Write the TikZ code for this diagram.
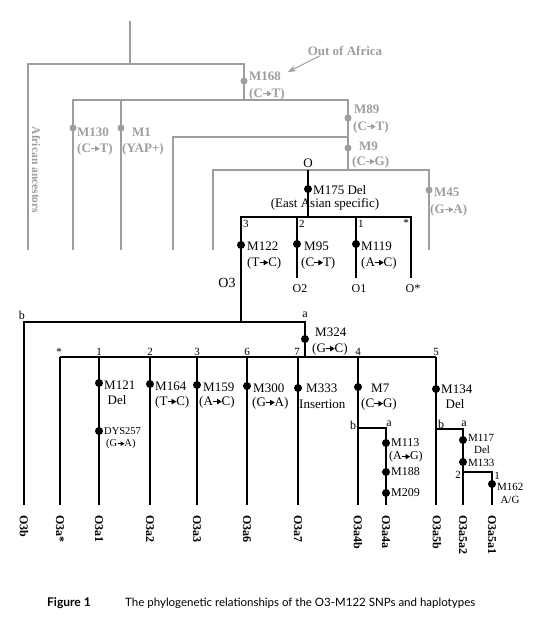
\documentclass[tikz,border=0pt]{standalone}
\usepackage{fontspec}
\setmainfont{Liberation Serif}
\newfontfamily\capfont{Lato}
\usetikzlibrary{arrows.meta}
\definecolor{anc}{RGB}{158,158,158}
\newcommand{\mto}{\tikz[baseline=-0.27em]{\draw[line width=0.5pt] (0,0) -- (0.36em,0); \fill (0.3em,0.22em) -- (0.66em,0) -- (0.3em,-0.22em) -- cycle;}}
\tikzset{
gline/.style={draw=anc, line width=1.1pt},
bline/.style={draw=black, line width=1.1pt},
gdot/.style={circle, fill=anc, inner sep=0pt, minimum size=7pt},
bdot/.style={circle, fill=black, inner sep=0pt, minimum size=8pt},
glab/.style={text=anc, font=\fontsize{13}{15}\selectfont\bfseries, inner sep=0pt, anchor=west},
blab/.style={font=\fontsize{13}{15}\selectfont, inner sep=0pt, anchor=west},
slab/.style={font=\fontsize{12}{14}\selectfont, inner sep=0pt, anchor=west},
xlab/.style={font=\fontsize{11}{13}\selectfont, inner sep=0pt, anchor=west},
tlab/.style={font=\fontsize{10.5}{12}\selectfont, inner sep=0pt, anchor=west},
num/.style={font=\fontsize{11}{12}\selectfont, inner sep=0pt},
leaf/.style={font=\fontsize{12}{14}\selectfont\bfseries, inner sep=0pt, rotate=-90, anchor=west},
}
\begin{document}
\begin{tikzpicture}[x=1pt,y=1pt,yscale=-1,xscale=1]
\useasboundingbox (0,0) rectangle (545,633);

%Ancestral lines (grey)
\coordinate (root) at (130,21);
\coordinate (j0) at (130,64);
\coordinate (afrT) at (28,64);
\coordinate (afrB) at (28,250);
\coordinate (ooaT) at (244,64);
\coordinate (ooaB) at (244,100);
\coordinate (m130T) at (73,100);
\coordinate (m130B) at (73,250);
\coordinate (m1T) at (121,100);
\coordinate (m1B) at (121,250);
\coordinate (m89T) at (348,100);
\coordinate (m9T) at (348,137);
\coordinate (m9B) at (348,170);
\coordinate (c173T) at (173,137);
\coordinate (c173B) at (173,250);
\coordinate (c213T) at (213,170);
\coordinate (c213B) at (213,250);
\coordinate (m45T) at (429,170);
\coordinate (m45B) at (429,250);
\coordinate (oT) at (308,170);
\draw[gline] (root) -- (j0);
\draw[gline] (afrB) -- (afrT) -- (ooaT) -- (ooaB);
\draw[gline] (m130B) -- (m130T) -- (m89T) -- (m9B);
\draw[gline] (m1T) -- (m1B);
\draw[gline] (c173B) -- (c173T) -- (m9T);
\draw[gline] (c213B) -- (c213T) -- (m45T) -- (m45B);

%Grey markers
\node[gdot] (d168) at (244,81) {};
\node[gdot] (d89) at (348,118) {};
\node[gdot] (d9) at (348,148) {};
\node[gdot] (d130) at (73,128) {};
\node[gdot] (d1) at (121,128) {};
\node[gdot] (d45) at (429,190) {};

% Text Node
\node[glab, anchor=center] (ooa) at (345,51) {Out of Africa};
\coordinate (ooaTip) at (288,72);
\draw[gline, line width=1pt, -{Stealth[length=8pt,width=6pt]}] ([xshift=12pt]ooa.south west) -- (ooaTip);
\node[glab] (l168) at (249,76) {M168};
\node[glab] (l168b) at (249,94) {(C\mto T)};
\node[glab] (l89) at (354,109) {M89};
\node[glab] (l89b) at (353,127) {(C\mto T)};
\node[glab] (l9) at (359,146) {M9};
\node[glab] (l9b) at (352,162) {(C\mto G)};
\node[glab] (l130) at (77,132) {M130};
\node[glab] (l130b) at (77,149) {(C\mto T)};
\node[glab] (l1) at (132,132) {M1};
\node[glab] (l1b) at (122,149) {(YAP+)};
\node[glab] (l45) at (434,192) {M45};
\node[glab] (l45b) at (430,210) {(G\mto A)};
\node[glab, anchor=center, rotate=-90, font=\fontsize{11.5}{13}\selectfont\bfseries] (afr) at (36,170) {African ancestors};

%Haplogroup O (black)
\coordinate (oB) at (308,217);
\coordinate (o3T) at (241,217);
\coordinate (o3B) at (241,322);
\coordinate (o2T) at (297,217);
\coordinate (o2B) at (297,278);
\coordinate (o1T) at (356,217);
\coordinate (o1B) at (356,278);
\coordinate (osT) at (411,217);
\coordinate (osB) at (411,278);
\draw[bline] (oT) -- (oB);
\draw[bline] (o3B) -- (o3T) -- (osT) -- (osB);
\draw[bline] (o2T) -- (o2B);
\draw[bline] (o1T) -- (o1B);

\node[bdot] (d175) at (308,189) {};
\node[bdot] (d122) at (241,245) {};
\node[bdot] (d95) at (297,244) {};
\node[bdot] (d119) at (356,244) {};

% Text Node
\node[blab, anchor=center] (lo) at (308,163) {O};
\node[blab] (l175) at (313,190) {M175 Del};
\node[blab, anchor=center] (l175b) at (325,204) {(East Asian specific)};
\node[num, anchor=west] (n3) at (243,224) {3};
\node[num, anchor=west] (n2) at (299,224) {2};
\node[num, anchor=west] (n1) at (358,224) {1};
\node[num, anchor=east] (ns) at (409,223) {*};
\node[blab] (l122) at (247,246) {M122};
\node[blab] (l122b) at (247,263) {(T\mto C)};
\node[blab] (l95) at (304,246) {M95};
\node[blab] (l95b) at (301,263) {(C\mto T)};
\node[blab] (l119) at (361,246) {M119};
\node[blab] (l119b) at (361,263) {(A\mto C)};
\node[blab, anchor=center, font=\fontsize{14}{16}\selectfont] (lo3) at (227,283) {O3};
\node[slab, anchor=center] (lo2) at (300,289) {O2};
\node[slab, anchor=center] (lo1) at (359,289) {O1};
\node[slab, anchor=center] (los) at (413,289) {O*};

%Haplogroup O3
\coordinate (o3bT) at (24,322);
\coordinate (o3bB) at (24,505);
\coordinate (aT) at (305,322);
\coordinate (aB) at (305,357);
\coordinate (h6L) at (60,357);
\coordinate (h6R) at (436,357);
\draw[bline] (o3bB) -- (o3bT) -- (aT) -- (aB);
\draw[bline] (h6L) -- (h6R);
\foreach \x/\n in {60/s,99/a1,150/a2,197/a3,247/a6,298/a7,358/a4,436/a5}
  \draw[bline] (\x,357) coordinate (t\n) -- (\x,505) coordinate (e\n);
\coordinate (b4) at (358,428);
\coordinate (a4T) at (386,428);
\coordinate (a4B) at (386,505);
\draw[bline] (b4) -- (a4T) -- (a4B);
\coordinate (b5) at (436,429);
\coordinate (a5T) at (463,429);
\coordinate (a5B) at (463,505);
\draw[bline] (b5) -- (a5T) -- (a5B);
\coordinate (c2) at (463,472);
\coordinate (c1T) at (492,472);
\coordinate (c1B) at (492,505);
\draw[bline] (c2) -- (c1T) -- (c1B);

\node[bdot] (d324) at (305,339) {};
\node[bdot] (d121) at (99,383) {};
\node[bdot] (d257) at (99,431) {};
\node[bdot] (d164) at (150,384) {};
\node[bdot] (d159) at (197,385) {};
\node[bdot] (d300) at (247,386) {};
\node[bdot] (d333) at (298,388) {};
\node[bdot] (d7) at (358,387) {};
\node[bdot] (d134) at (436,389) {};
\node[bdot] (d113) at (386,443) {};
\node[bdot] (d188) at (386,472) {};
\node[bdot] (d209) at (386,493) {};
\node[bdot] (d117) at (463,440) {};
\node[bdot] (d133) at (463,462) {};
\node[bdot] (d162) at (492,484) {};

% Text Node
\node[slab, anchor=center] (lb) at (22,315) {b};
\node[slab, anchor=center] (la) at (305,315) {a};
\node[blab] (l324) at (315,332) {M324};
\node[blab] (l324b) at (312,349) {(G\mto C)};
\foreach \x/\t [count=\i] in {59/*,99/1,150/2,197/3,247/6,297/7,358/4,436/5}
  \node[num] (k\i) at (\x,352) {\t};
\node[blab] (l121) at (104,385) {M121};
\node[blab, anchor=center] (l121b) at (117,400) {Del};
\node[tlab] (l257) at (104,431) {DYS257};
\node[tlab] (l257b) at (106,444) {(G\mto A)};
\node[blab] (l164) at (155,386) {M164};
\node[blab] (l164b) at (155,402) {(T\mto C)};
\node[blab] (l159) at (203,387) {M159};
\node[blab] (l159b) at (199,402) {(A\mto C)};
\node[blab] (l300) at (253,388) {M300};
\node[blab] (l300b) at (252,403) {(G\mto A)};
\node[blab] (l333) at (306,388) {M333};
\node[blab] (l333b) at (299,404) {Insertion};
\node[blab] (l7) at (371,388) {M7};
\node[blab] (l7b) at (361,404) {(C\mto G)};
\node[blab] (l134) at (441,389) {M134};
\node[blab, anchor=center] (l134b) at (455,404) {Del};
\node[slab, anchor=center] (lb4) at (353,425) {b};
\node[slab, anchor=center] (la4) at (389,424) {a};
\node[slab] (l113) at (391,443) {M113};
\node[slab] (l113b) at (389,457) {(A\mto G)};
\node[slab] (l188) at (391,472) {M188};
\node[slab] (l209) at (391,493) {M209};
\node[slab, anchor=center] (lb5) at (441,424) {b};
\node[slab, anchor=center] (la5) at (464,424) {a};
\node[xlab] (l117) at (468,438) {M117};
\node[xlab, anchor=center] (l117b) at (482,450) {Del};
\node[xlab] (l133) at (468,463) {M133};
\node[num, anchor=center] (n2b) at (458,475) {2};
\node[num, anchor=center] (n1b) at (497,476) {1};
\node[xlab] (l162) at (497,487) {M162};
\node[xlab, anchor=center] (l162b) at (510,500) {A/G};

%Haplotypes
\foreach \x/\t/\n in {24/O3b/o3b,60/O3a*/o3as,99/O3a1/o3a1,150/O3a2/o3a2,197/O3a3/o3a3,247/O3a6/o3a6,298/O3a7/o3a7,358/O3a4b/o3a4b,386/O3a4a/o3a4a,437/O3a5b/o3a5b,463/O3a5a2/o3a5a2,492/O3a5a1/o3a5a1}
  \node[leaf] (\n) at (\x,515) {\t};

% Caption
\node[anchor=west, inner sep=0pt, font=\capfont\bfseries\fontsize{12}{14}\selectfont] (figno) at (47,603) {Figure 1};
\node[anchor=west, inner sep=0pt, font=\capfont\fontsize{11.5}{14}\selectfont] (cap) at (125,603) {The phylogenetic relationships of the O3-M122 SNPs and haplotypes};
\end{tikzpicture}
\end{document}
